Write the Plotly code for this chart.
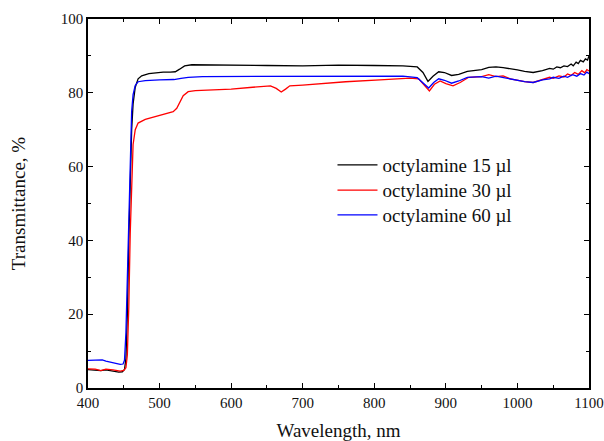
import plotly.graph_objects as go

# ---- data ----
wl_15 = [400, 410, 418, 425, 435, 443, 448, 451, 453, 455, 457, 459, 461, 463, 466, 470, 475, 485, 495,
         505, 515, 522, 528, 535, 545, 560, 600, 650, 700, 720, 750, 800, 840, 860, 868, 875, 882, 890,
         898, 908, 918, 930, 950, 960, 970, 980, 990, 1000, 1010, 1022, 1035, 1045, 1050, 1055, 1060,
         1065, 1070, 1075, 1078, 1082, 1085, 1088, 1092, 1095, 1098, 1100]
t_15 = [5.0, 4.9, 4.7, 4.9, 4.6, 4.3, 4.4, 5.0, 8, 20, 40, 58, 70, 77, 81.5, 83.8, 84.6, 85.2, 85.5,
        85.6, 85.6, 85.7, 86.4, 87.3, 87.6, 87.6, 87.5, 87.4, 87.3, 87.4, 87.5, 87.4, 87.3, 87.0, 85.5,
        83.1, 84.5, 85.7, 85.5, 84.7, 85.0, 85.8, 86.3, 86.9, 87.0, 86.8, 86.6, 86.2, 85.8, 85.5, 86.0,
        86.6, 86.4, 87.0, 86.8, 87.3, 87.1, 87.8, 87.3, 88.3, 87.9, 88.8, 88.4, 89.2, 88.9, 90.0]

wl_30 = [400, 410, 418, 425, 435, 445, 450, 453, 455, 457, 459, 461, 463, 466, 470, 480, 495, 510, 519,
         524, 528, 533, 540, 550, 575, 600, 630, 655, 663, 670, 676, 682, 700, 720, 760, 808, 850, 862,
         870, 877, 884, 892, 900, 910, 920, 932, 950, 960, 970, 980, 990, 1010, 1022, 1035, 1045, 1050,
         1058, 1065, 1070, 1075, 1080, 1085, 1090, 1094, 1097, 1100]
t_30 = [5.2, 5.1, 4.7, 5.1, 4.9, 4.6, 4.8, 5.5, 9, 22, 42, 58, 66, 70, 71.8, 72.8, 73.6, 74.3, 74.9,
        75.8, 77.3, 79.2, 80.3, 80.6, 80.8, 81.0, 81.5, 81.9, 81.2, 80.2, 81.0, 81.9, 82.1, 82.4, 83.0,
        83.5, 84.0, 83.8, 82.0, 80.5, 82.3, 83.2, 82.5, 81.9, 82.8, 84.2, 84.4, 84.9, 84.4, 84.6, 83.8,
        83.0, 82.8, 83.5, 84.2, 83.9, 84.6, 84.3, 85.1, 84.7, 85.5, 85.0, 86.0, 85.4, 86.3, 85.9]

wl_60 = [400, 410, 420, 425, 435, 445, 449, 451, 453, 455, 457, 459, 461, 463, 466, 470, 480, 500, 520,
         530, 540, 560, 600, 650, 700, 750, 800, 840, 860, 868, 876, 883, 890, 898, 908, 918, 930, 950,
         960, 970, 980, 990, 1010, 1022, 1035, 1045, 1050, 1058, 1065, 1070, 1077, 1083, 1088, 1093,
         1097, 1100]
t_60 = [7.5, 7.5, 7.6, 7.3, 6.9, 6.4, 6.5, 7.5, 15, 30, 50, 66, 75, 79.5, 82, 83.0, 83.3, 83.5, 83.6,
        83.9, 84.2, 84.4, 84.4, 84.5, 84.6, 84.6, 84.6, 84.5, 84.1, 82.8, 81.3, 82.8, 83.8, 83.4, 82.6,
        83.2, 84.2, 84.4, 84.0, 84.5, 84.1, 83.8, 83.0, 82.8, 83.5, 83.8, 84.2, 83.9, 84.5, 84.2, 84.9,
        84.5, 85.2, 84.8, 85.6, 85.2]

names = ["octylamine 15 µl", "octylamine 30 µl", "octylamine 60 µl"]
colors = ["#000000", "#ff0000", "#0000ff"]
x_ticks = [400, 500, 600, 700, 800, 900, 1000, 1100]
y_ticks = [0, 20, 40, 60, 80, 100]

FONT = "Liberation Serif, Times New Roman, serif"
legend_ids = ["legend", "legend2", "legend3"]
legend_y = [0.604, 0.536, 0.469]

fig = go.Figure()
for wl, t, n, c, lg in zip([wl_15, wl_30, wl_60], [t_15, t_30, t_60], names, colors, legend_ids):
    fig.add_trace(go.Scatter(x=wl, y=t, mode="lines", name=n, legend=lg,
                             line=dict(color=c, width=1.3)))

axis_common = dict(
    showline=True, linecolor="black", linewidth=1.5, mirror="ticks",
    ticks="inside", ticklen=5, tickwidth=1, tickcolor="black",
    showgrid=False, zeroline=False, automargin=False, ticklabeloverflow="allow",
    tickfont=dict(family=FONT, size=15, color="#111"),
    minor=dict(ticks="inside", ticklen=3, tickwidth=1, tickcolor="black", showgrid=False),
)

fig.update_xaxes(range=[400, 1100], tickvals=x_ticks,
                 minor_dtick=50,
                 title=dict(text="Wavelength, nm", font=dict(family=FONT, size=19, color="#111"),
                            standoff=16),
                 **axis_common)
fig.update_yaxes(range=[0, 100], tickvals=y_ticks,
                 minor_dtick=10,
                 title=dict(text="Transmittance, %", font=dict(family=FONT, size=19, color="#111"),
                            standoff=30),
                 **axis_common)

leg_common = dict(x=0.488, xanchor="left", yanchor="middle", bgcolor="rgba(0,0,0,0)",
                  font=dict(family=FONT, size=19, color="#111"), itemwidth=40,
                  borderwidth=0)
layout_legends = {lg: dict(y=yy, **leg_common) for lg, yy in zip(legend_ids, legend_y)}

fig.update_layout(
    width=604, height=441,
    margin=dict(l=88, r=15, t=19, b=53),
    plot_bgcolor="white", paper_bgcolor="white",
    font=dict(family=FONT, size=15, color="#111"),
    showlegend=True,
    **layout_legends,
)

fig.write_html("out.html")
